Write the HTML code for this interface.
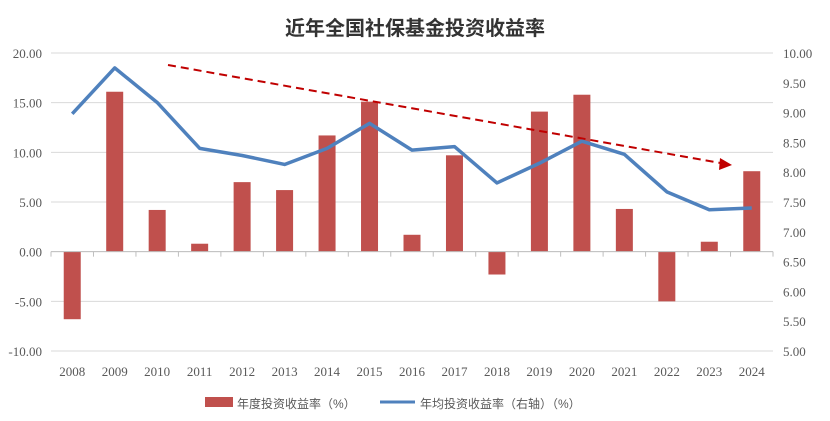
<!DOCTYPE html>
<html><head><meta charset="utf-8"><style>
body{margin:0;background:#fff;}
svg text{font-family:"Liberation Serif","Noto Serif CJK SC",serif;fill:#595959;font-size:13px;}
</style></head><body>
<svg width="830" height="416">
<text x="415" y="35" text-anchor="middle" style="font-family:'Liberation Sans','Noto Sans CJK SC',sans-serif;font-size:20px;font-weight:bold;fill:#333">近年全国社保基金投资收益率</text>
<g id="grid"></g><g id="bars"></g><g id="axes"></g>
<line x1="168" y1="65" x2="726" y2="164" stroke="#c00000" stroke-width="2" stroke-dasharray="8,5"/>
<polygon points="732,165 720,158 719,170" fill="#c00000"/>
<g id="line"></g>
<g>
<rect x="205" y="397" width="28" height="10" fill="#c0504d"/>
<text x="237" y="408" style="font-family:'Liberation Sans','Noto Sans CJK SC',sans-serif;font-size:12px;fill:#595959">年度投资收益率（%）</text>
<line x1="380" y1="402" x2="415" y2="402" stroke="#4f81bd" stroke-width="3"/>
<text x="420" y="408" style="font-family:'Liberation Sans','Noto Sans CJK SC',sans-serif;font-size:12px;fill:#595959">年均投资收益率（右轴）（%）</text>
</g>
</svg>
<script>
const years=['2008','2009','2010','2011','2012','2013','2014','2015','2016','2017','2018','2019','2020','2021','2022','2023','2024'];
const annualReturn=[-6.8,16.1,4.2,0.8,7.0,6.2,11.7,15.1,1.7,9.7,-2.3,14.1,15.8,4.3,-5.0,1.0,8.1];
const avgReturn=[8.98,9.75,9.17,8.40,8.28,8.13,8.40,8.82,8.37,8.43,7.82,8.15,8.52,8.30,7.67,7.37,7.40];
const leftTicks=[-10,-5,0,5,10,15,20];
const rightTicks=[5,5.5,6,6.5,7,7.5,8,8.5,9,9.5,10];
const NS='http://www.w3.org/2000/svg';
const X0=51,X1=773,YT=53,YB=351;
const bw=(X1-X0)/years.length;
const xc=i=>X0+bw*(i+0.5);
const yL=v=>YB-(v+10)/30*(YB-YT);
const yR=v=>YB-(v-5)/5*(YB-YT);
function mk(t,a,p){const e=document.createElementNS(NS,t);for(const k in a)e.setAttribute(k,a[k]);p.appendChild(e);return e;}
const grid=document.getElementById('grid'),axes=document.getElementById('axes'),bars=document.getElementById('bars'),lg=document.getElementById('line');
leftTicks.forEach(v=>{
 const l=mk('line',{x1:X0,x2:X1,y1:yL(v),y2:yL(v),stroke:'#d9d9d9','stroke-width':1},grid);
 
 
 const t=mk('text',{x:42,y:yL(v)+5,'text-anchor':'end'},axes);t.textContent=v.toFixed(2);
 
 
});
rightTicks.forEach(v=>{
 const t=mk('text',{x:783,y:yR(v)+5},axes);t.textContent=v.toFixed(2);
 
 
});
const ax=mk('line',{x1:X0,x2:X1,y1:yL(0),y2:yL(0),stroke:'#bfbfbf'},axes);


for(let i=0;i<=years.length;i++){const tk=mk('line',{x1:X0+bw*i,x2:X0+bw*i,y1:yL(0),y2:yL(0)+5,stroke:'#bfbfbf'},axes);
 
 }
years.forEach((y,i)=>{
 const t=mk('text',{x:xc(i),y:376,'text-anchor':'middle'},axes);t.textContent=y;
 
 
 const v=annualReturn[i];
 const b=mk('rect',{x:xc(i)-8.5,width:17,y:Math.min(yL(v),yL(0)),height:Math.abs(yL(v)-yL(0)),fill:'#c0504d'},bars);
 
 
});
const pl=mk('polyline',{points:avgReturn.map((v,i)=>xc(i)+','+yR(v)).join(' '),fill:'none',stroke:'#4f81bd','stroke-width':3.5,'stroke-linejoin':'round'},lg);


</script>
</body></html>
